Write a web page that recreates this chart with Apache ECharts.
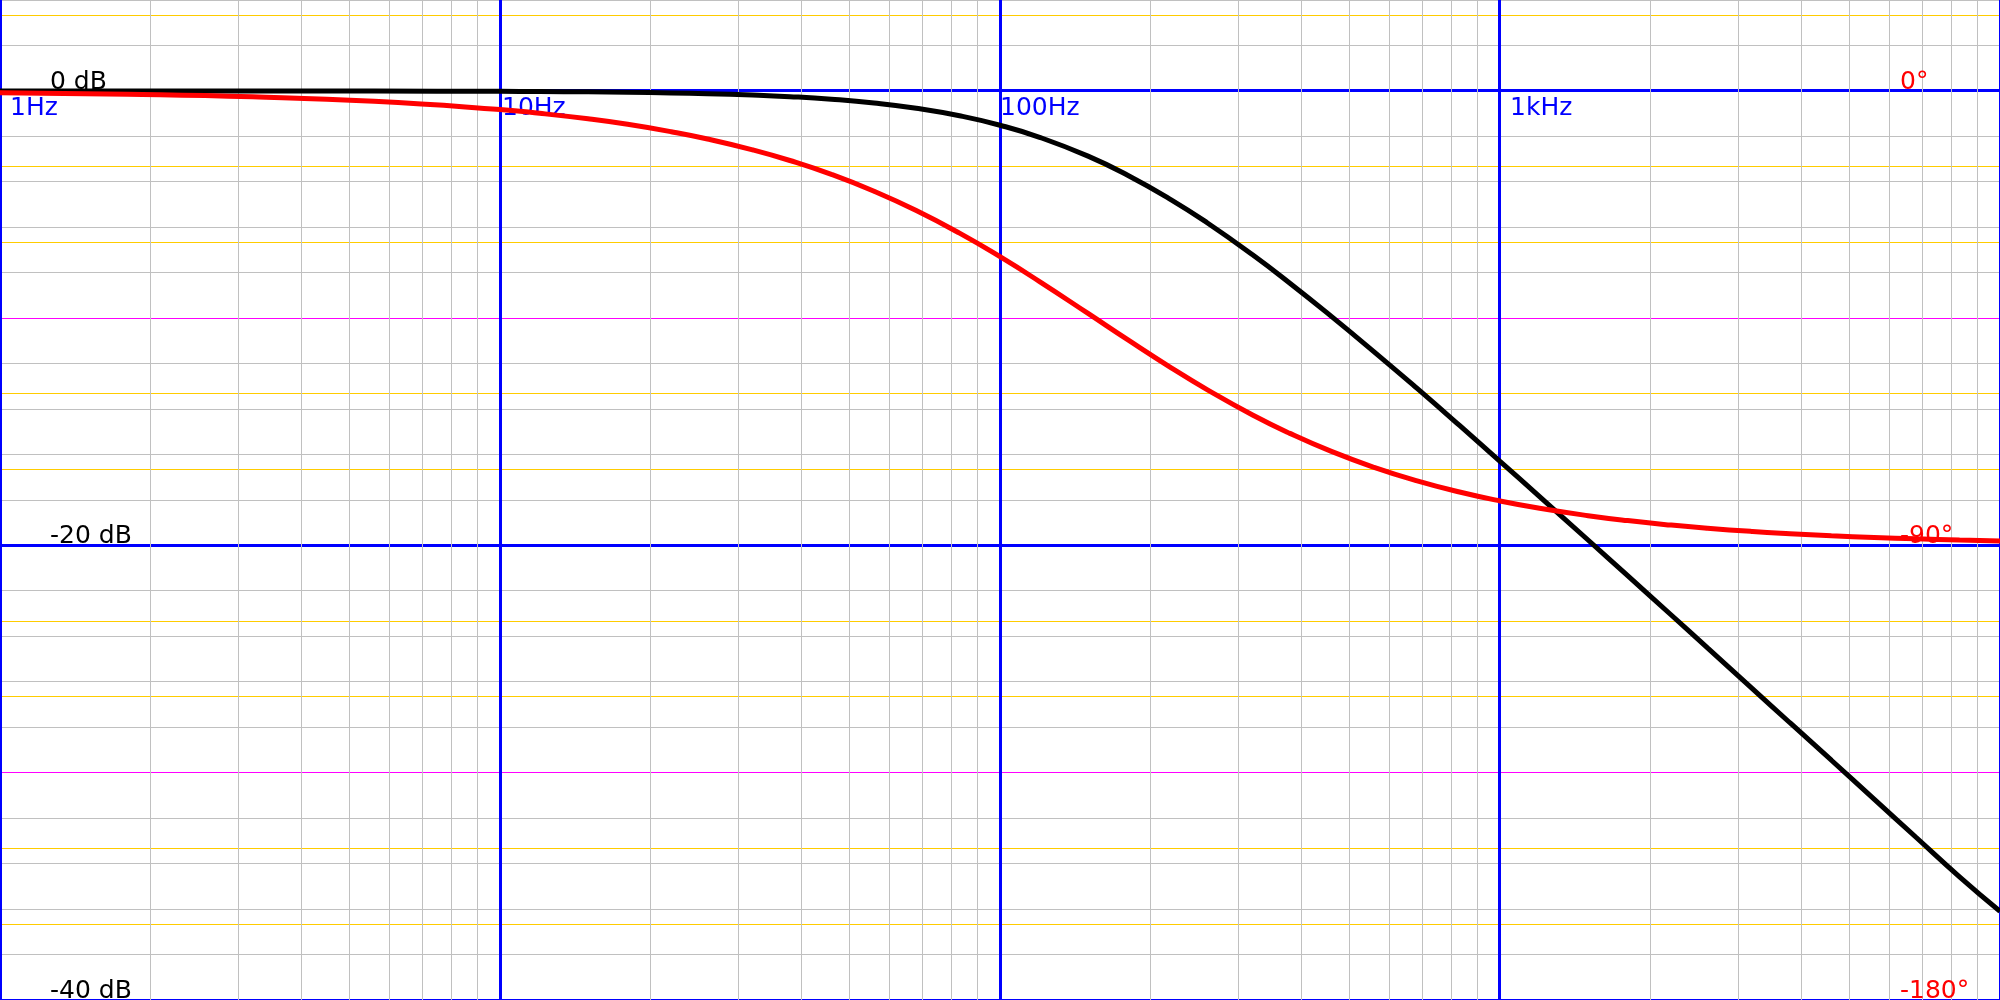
<!DOCTYPE html>
<html>
<head>
<meta charset="utf-8">
<style>
  html, body { margin: 0; padding: 0; background: #ffffff; }
  #chart { width: 2000px; height: 1000px; }
</style>
<script src="https://cdn.jsdelivr.net/npm/echarts@6/dist/echarts.min.js"></script>
</head>
<body>
<div id="chart"></div>
<script>
// ---- data ----
const freqs = [1, 1.8, 3.2, 5.6, 10, 12, 15, 18, 22, 26, 32, 38, 46, 56, 68, 83, 100, 120, 150, 180, 220, 260, 320, 380, 460, 560, 680, 830, 1000, 1200, 1500, 1800, 2200, 2600, 3200, 3800, 4600, 5600, 6800, 8300, 10000];
const magnitudeDb = [0, 0, -0.002, -0.006, -0.018, -0.026, -0.041, -0.058, -0.087, -0.121, -0.181, -0.253, -0.367, -0.533, -0.765, -1.095, -1.51, -2.04, -2.87, -3.71, -4.79, -5.81, -7.21, -8.46, -9.92, -11.48, -13.06, -14.72, -16.3, -17.85, -19.76, -21.33, -23.06, -24.51, -26.31, -27.8, -29.45, -31.16, -32.85, -34.58, -36.1];
const phaseDeg = [-0.37, -0.67, -1.18, -2.07, -3.69, -4.43, -5.53, -6.62, -8.08, -9.52, -11.67, -13.78, -16.53, -19.87, -23.69, -28.17, -32.83, -37.75, -44.06, -49.26, -54.83, -59.19, -64.17, -67.81, -71.38, -74.53, -77.16, -79.42, -81.19, -82.64, -84.1, -85.08, -85.97, -86.59, -87.23, -87.66, -88.07, -88.41, -88.69, -88.93, -89.11];

// tick labels
const freqTicks = [1, 10, 100, 1000];
const freqLabels = ['1Hz', '10Hz', '100Hz', '1kHz'];
const dbTicks = [0, -20, -40];
const dbLabels = ['0 dB', '-20 dB', '-40 dB'];
const phaseTicks = [0, -90, -180];
const phaseLabels = ['0°', '-90°', '-180°'];

// grid line values
const decades = [1, 10, 100, 1000, 10000];
const minorFreqs = [2, 3, 4, 5, 6, 7, 8, 9, 20, 30, 40, 50, 60, 70, 80, 90, 200, 300, 400, 500, 600, 700, 800, 900, 2000, 3000, 4000, 5000, 6000, 7000, 8000, 9000];
const dbMajor = [0, -20, -40];
const dbMinor = [4, 2, -2, -4, -6, -8, -10, -12, -14, -16, -18, -22, -24, -26, -28, -30, -32, -34, -36, -38];
const phaseMinor = [15, -15, -30, -60, -75, -105, -120, -150, -165];
const phaseMid = [-45, -135];

// ---- styles ----
const FONT = 'DejaVu Sans';
const FS = 25;
const BLUE = '#0000ff', GRAY = '#c0c0c0', YELLOW = '#ffcc00', MAGENTA = '#ff00ff';

function crisp(v, w) {
  return (w % 2 === 1) ? Math.round(v - 0.5) + 0.5 : Math.round(v);
}
function gridLines(name, yAxisIndex, values, horizontal, color, width) {
  return {
    name: name, type: 'custom', yAxisIndex: yAxisIndex, z: 1, silent: true, clip: false,
    animation: false,
    data: values.map(v => horizontal ? [1, v] : [v, 0]),
    renderItem: function (params, api) {
      const cs = params.coordSys;
      const p = api.coord([api.value(0), api.value(1)]);
      if (horizontal) {
        const y = crisp(p[1], width);
        return { type: 'line', silent: true,
          shape: { x1: cs.x, y1: y, x2: cs.x + cs.width, y2: y },
          style: { stroke: color, lineWidth: width } };
      }
      const x = crisp(p[0], width);
      return { type: 'line', silent: true,
        shape: { x1: x, y1: cs.y, x2: x, y2: cs.y + cs.height },
        style: { stroke: color, lineWidth: width } };
    }
  };
}

const labelPadStyles = ['p10', 'p2', 'p0', 'p10'];

const chart = echarts.init(document.getElementById('chart'), null, { renderer: 'canvas' });
chart.setOption({
  animation: false,
  backgroundColor: '#ffffff',
  grid: { left: 0, right: 0, top: 0, bottom: 0, containLabel: false, outerBoundsMode: 'none' },
  xAxis: {
    type: 'log', logBase: 10, min: 1, max: 10000, z: 2,
    position: 'top', offset: 0,
    axisLine: { show: false, onZero: false },
    axisTick: { show: false },
    splitLine: { show: false },
    axisLabel: {
      show: true, inside: true, margin: 5, color: BLUE, fontFamily: FONT, fontSize: FS,
      align: 'left', verticalAlign: 'top',
      formatter: function (v) {
        const i = freqTicks.indexOf(Math.round(v));
        return i < 0 ? '' : '{' + labelPadStyles[i] + '|' + freqLabels[i] + '}';
      },
      rich: {
        p10: { padding: [0, 0, 0, 10], color: BLUE, fontFamily: FONT, fontSize: FS },
        p2: { padding: [0, 0, 0, 2], color: BLUE, fontFamily: FONT, fontSize: FS },
        p0: { padding: [0, 0, 0, 0], color: BLUE, fontFamily: FONT, fontSize: FS }
      }
    }
  },
  yAxis: [
    {
      type: 'value', min: -40, max: 4, interval: 20, position: 'left', z: 2,
      axisLine: { show: false }, axisTick: { show: false }, splitLine: { show: false },
      axisLabel: {
        inside: true, margin: 50, align: 'left', verticalAlign: 'bottom', lineHeight: 17,
        color: '#000000', fontFamily: FONT, fontSize: FS,
        formatter: function (v) { const i = dbTicks.indexOf(Math.round(v)); return (i < 0 || Math.abs(v - dbTicks[i]) > 1e-6) ? '' : dbLabels[i]; }
      }
    },
    {
      type: 'value', min: -180, max: 18, interval: 90, position: 'right', z: 2,
      axisLine: { show: false }, axisTick: { show: false }, splitLine: { show: false },
      axisLabel: {
        inside: true, margin: 100, align: 'left', verticalAlign: 'bottom', lineHeight: 17,
        color: '#ff0000', fontFamily: FONT, fontSize: FS,
        formatter: function (v) { const i = phaseTicks.indexOf(Math.round(v)); return (i < 0 || Math.abs(v - phaseTicks[i]) > 1e-6) ? '' : phaseLabels[i]; }
      }
    }
  ],
  series: [
    gridLines('dbMinorGrid', 0, dbMinor, true, GRAY, 1),
    gridLines('phaseMinorGrid', 1, phaseMinor, true, YELLOW, 1),
    gridLines('phaseMidGrid', 1, phaseMid, true, MAGENTA, 1),
    gridLines('dbMajorGrid', 0, dbMajor, true, BLUE, 3),
    gridLines('freqMinorGrid', 0, minorFreqs, false, GRAY, 1),
    gridLines('freqMajorGrid', 0, decades, false, BLUE, 3),
    {
      name: 'Magnitude', type: 'line', yAxisIndex: 0, z: 3,
      data: freqs.map((f, i) => [f, magnitudeDb[i]]),
      showSymbol: false, symbol: 'none', smooth: true,
      lineStyle: { color: '#000000', width: 5 }, silent: true
    },
    {
      name: 'Phase', type: 'line', yAxisIndex: 1, z: 4,
      data: freqs.map((f, i) => [f, phaseDeg[i]]),
      showSymbol: false, symbol: 'none', smooth: true,
      lineStyle: { color: '#ff0000', width: 5 }, silent: true
    }
  ]
});

// place the frequency labels on the 0 dB line, using the magnitude axis scale
const zeroDbY = chart.convertToPixel({ yAxisIndex: 0 }, 0);
chart.setOption({ xAxis: { offset: -zeroDbY } });
</script>
</body>
</html>
